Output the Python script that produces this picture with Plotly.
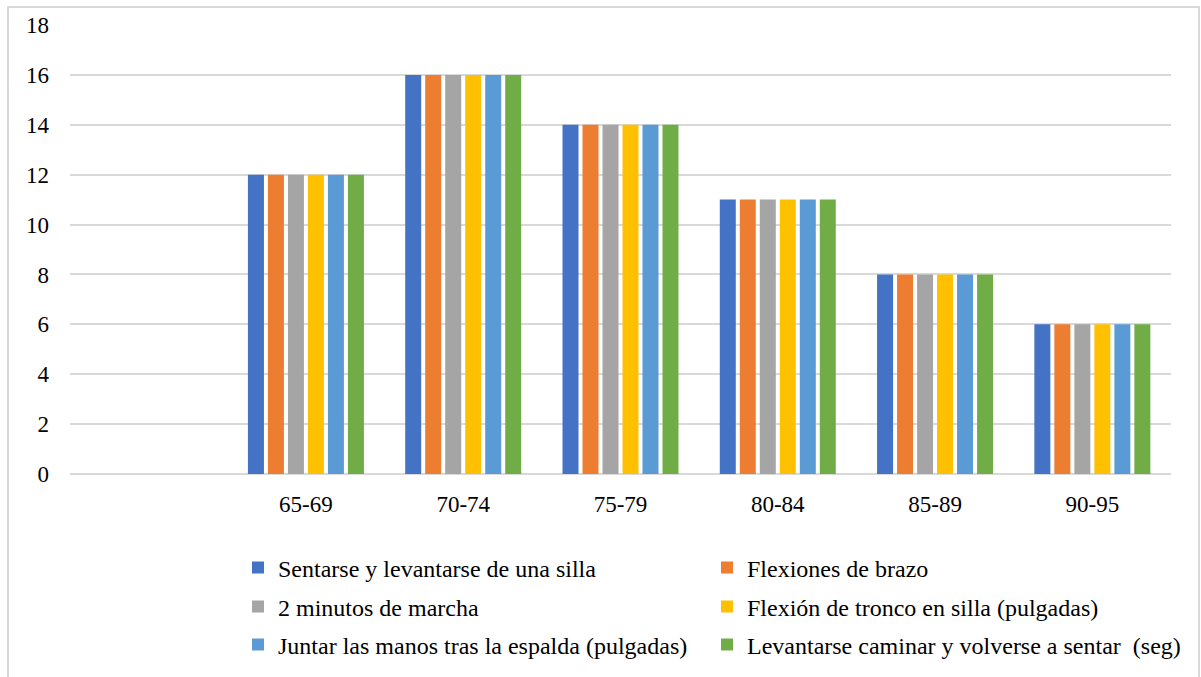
import plotly.graph_objects as go

# Age groups (the first slot is an unlabeled, empty category)
age_groups = ["", "65-69", "70-74", "75-79", "80-84", "85-89", "90-95"]

# Number of participants per test and age group
sentarse_levantarse = [None, 12, 16, 14, 11, 8, 6]
flexiones_brazo = [None, 12, 16, 14, 11, 8, 6]
dos_minutos_marcha = [None, 12, 16, 14, 11, 8, 6]
flexion_tronco = [None, 12, 16, 14, 11, 8, 6]
juntar_manos = [None, 12, 16, 14, 11, 8, 6]
levantarse_caminar = [None, 12, 16, 14, 11, 8, 6]

series_names = [
    "Sentarse y levantarse de una silla",
    "Flexiones de brazo",
    "2 minutos de marcha",
    "Flexión de tronco en silla (pulgadas)",
    "Juntar las manos tras la espalda (pulgadas)",
    "Levantarse caminar y volverse a sentar  (seg)",
]
series_values = [
    sentarse_levantarse,
    flexiones_brazo,
    dos_minutos_marcha,
    flexion_tronco,
    juntar_manos,
    levantarse_caminar,
]
series_colors = ["#4472C4", "#ED7D31", "#A5A5A5", "#FFC000", "#5B9BD5", "#70AD47"]

FONT = "Times New Roman"
W, H = 1201, 677
ML, MR, MT, MB = 70, 30, 25, 203

# Legend grid: two columns, three rows (pixel positions in the page)
LEGEND_COL_X = [238, 707]
LEGEND_ROW_Y = [568, 607, 645]

x_pos = list(range(len(age_groups)))

fig = go.Figure()
legend_layouts = {}
for i, (name, vals, color) in enumerate(zip(series_names, series_values, series_colors)):
    legend_id = "legend" if i == 0 else f"legend{i + 1}"
    fig.add_trace(go.Bar(
        x=x_pos, y=vals, name=name,
        marker=dict(color=color, line=dict(width=0)),
        legend=legend_id,
    ))
    row, col = divmod(i, 2)
    legend_layouts[legend_id] = dict(
        xref="container", yref="container",
        x=LEGEND_COL_X[col] / W, xanchor="left",
        y=1 - LEGEND_ROW_Y[row] / H, yanchor="middle",
        font=dict(family=FONT, size=24, color="#000000"),
        bgcolor="rgba(0,0,0,0)", borderwidth=0,
    )

fig.update_layout(
    width=W, height=H,
    margin=dict(l=ML, r=MR, t=MT, b=MB, autoexpand=False),
    paper_bgcolor="white", plot_bgcolor="white",
    font=dict(family=FONT, size=22, color="#000000"),
    barmode="group", bargap=0.237, bargroupgap=0.2,
    showlegend=True,
    xaxis=dict(
        range=[-0.5, len(age_groups) - 0.5],
        tickmode="array", tickvals=x_pos, ticktext=age_groups,
        showgrid=False, zeroline=False, showline=False,
        ticks="", ticklabelstandoff=14,
        tickfont=dict(family=FONT, size=23),
        fixedrange=True,
    ),
    yaxis=dict(
        range=[0, 18], dtick=2, tick0=0,
        showgrid=True, gridcolor="#D9D9D9", gridwidth=2,
        zeroline=True, zerolinecolor="#D9D9D9", zerolinewidth=2,
        showline=False, ticks="", ticklabelstandoff=20,
        tickfont=dict(family=FONT, size=23),
        fixedrange=True,
    ),
    **legend_layouts,
)

# Light frame around the whole chart
pw = W - ML - MR
ph = H - MT - MB
fig.add_shape(
    type="rect", xref="paper", yref="paper",
    x0=(8 - ML) / pw, x1=(1199 - ML) / pw,
    y0=(H - 700 - MB) / ph, y1=(H - 7 - MB) / ph,
    line=dict(color="#D9D9D9", width=2), fillcolor="rgba(0,0,0,0)",
    layer="below",
)

fig.write_html("out.html", config={"displayModeBar": False})
